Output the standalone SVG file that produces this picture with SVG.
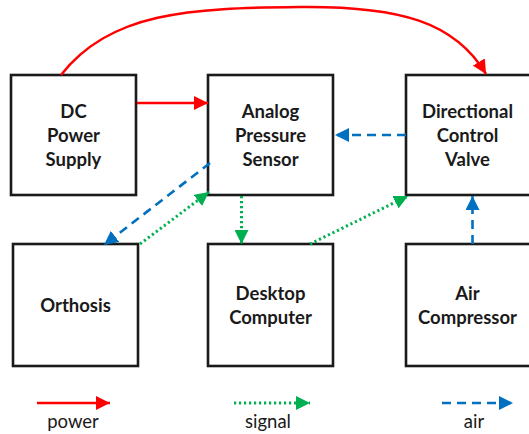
<svg xmlns="http://www.w3.org/2000/svg" width="529" height="434" viewBox="0 0 529 434">
  <style>
    .box { fill: #ffffff; stroke: #1a1a1a; stroke-width: 2.6; }
    .lbl { font-family: Lato, "Open Sans", "Liberation Sans", sans-serif; font-weight: bold; font-size: 18.5px; fill: #1a1a1a; text-anchor: middle; }
    .leg { font-family: Lato, "Open Sans", "Liberation Sans", sans-serif; font-size: 18.5px; fill: #1a1a1a; text-anchor: middle; }
    .power { fill: none; stroke: #ff0000; stroke-width: 2.5; }
    .signal { fill: none; stroke: #00b050; stroke-width: 3; stroke-dasharray: 2.2 2.8; }
    .air { fill: none; stroke: #0070c0; stroke-width: 2.6; stroke-dasharray: 9 6; }
  </style>
  <defs>
    <marker id="ahPower" markerUnits="userSpaceOnUse" markerWidth="16" markerHeight="14" refX="14" refY="7" orient="auto">
      <path d="M0,0 L14,7 L0,14 Z" fill="#ff0000"/>
    </marker>
    <marker id="ahSignal" markerUnits="userSpaceOnUse" markerWidth="16" markerHeight="14" refX="14" refY="7" orient="auto">
      <path d="M0,0 L14,7 L0,14 Z" fill="#00b050"/>
    </marker>
    <marker id="ahAir" markerUnits="userSpaceOnUse" markerWidth="16" markerHeight="14" refX="14" refY="7" orient="auto">
      <path d="M0,0 L14,7 L0,14 Z" fill="#0070c0"/>
    </marker>
  </defs>

  <rect width="529" height="434" fill="#ffffff"/>

  <!-- blocks -->
  <g id="dc-power-supply">
    <rect class="box" x="11" y="75" width="125" height="120"/>
    <text class="lbl" x="73.5" y="118">DC</text>
    <text class="lbl" x="73.5" y="142">Power</text>
    <text class="lbl" x="73.5" y="166">Supply</text>
  </g>
  <g id="analog-pressure-sensor">
    <rect class="box" x="208" y="75" width="125" height="120"/>
    <text class="lbl" x="270.5" y="118">Analog</text>
    <text class="lbl" x="270.5" y="142">Pressure</text>
    <text class="lbl" x="270.5" y="166">Sensor</text>
  </g>
  <g id="directional-control-valve">
    <rect class="box" x="406" y="75" width="125" height="120"/>
    <text class="lbl" x="467.5" y="118">Directional</text>
    <text class="lbl" x="467.5" y="142">Control</text>
    <text class="lbl" x="467.5" y="166">Valve</text>
  </g>
  <g id="orthosis">
    <rect class="box" x="13" y="244" width="125" height="122"/>
    <text class="lbl" x="75.5" y="312">Orthosis</text>
  </g>
  <g id="desktop-computer">
    <rect class="box" x="208" y="244" width="125" height="122"/>
    <text class="lbl" x="270.5" y="300">Desktop</text>
    <text class="lbl" x="270.5" y="324">Computer</text>
  </g>
  <g id="air-compressor">
    <rect class="box" x="406" y="244" width="125" height="122"/>
    <text class="lbl" x="467.5" y="300">Air</text>
    <text class="lbl" x="467.5" y="324">Compressor</text>
  </g>

  <!-- connectors -->
  <g id="connectors">
    <path class="power" d="M61,75 C110,12 190,8 300,7 C400,6 455,22 486,74" marker-end="url(#ahPower)"/>
    <path class="power" d="M137,103 L208,103" marker-end="url(#ahPower)"/>
    <path class="air" d="M406,135 L335,135" marker-end="url(#ahAir)"/>
    <path class="air" d="M210,163 L104,245" marker-end="url(#ahAir)"/>
    <path class="signal" d="M140,244 L209,192" marker-end="url(#ahSignal)"/>
    <path class="signal" d="M241.5,196 L241.5,244" marker-end="url(#ahSignal)"/>
    <path class="signal" d="M310,244 L408,196" marker-end="url(#ahSignal)"/>
    <path class="air" d="M472.5,244 L472.5,196" marker-end="url(#ahAir)"/>
  </g>

  <!-- legend -->
  <g id="legend">
    <path class="power" d="M37,403 L110,403" marker-end="url(#ahPower)"/>
    <text class="leg" x="73" y="428">power</text>
    <path class="signal" d="M234,403 L310,403" marker-end="url(#ahSignal)"/>
    <text class="leg" x="268" y="428">signal</text>
    <path class="air" d="M442,403 L513,403" marker-end="url(#ahAir)"/>
    <text class="leg" x="474" y="428">air</text>
  </g>
</svg>
